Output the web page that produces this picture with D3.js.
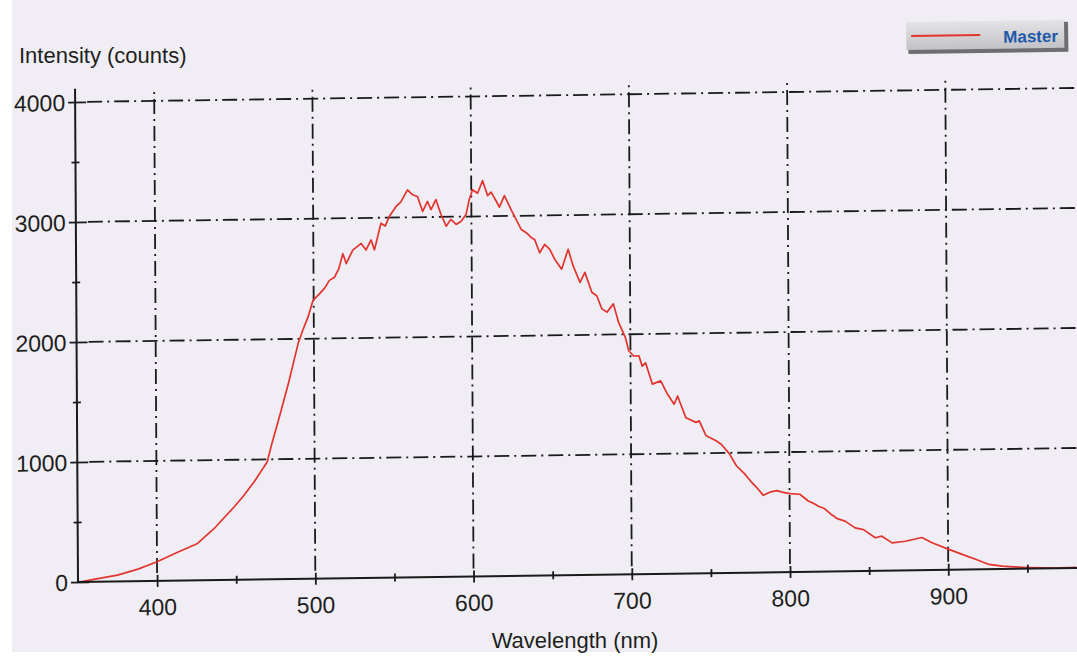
<!DOCTYPE html>
<html>
<head>
<meta charset="utf-8">
<script src="https://cdn.jsdelivr.net/npm/d3@7"></script>
<style>
  body { margin: 0; background: #ffffff; }
  svg { display: block; font-family: "Liberation Sans", Arial, sans-serif; }
  .tick text { fill: #1e1e1e; }
</style>
</head>
<body>
<svg id="chart"></svg>
<script>
// spectrum: wavelength (nm) and intensity (counts)
const wavelengths = [
  351, 360, 375, 388, 400, 412, 425.7, 437, 448.9, 455, 461.6, 470, 473, 478.5, 483.7,
  490, 493, 496.4, 499.6, 503.8, 507, 510, 513.3, 516, 518.6, 520.7, 524.9, 527.5, 530.2,
  533.3, 536.5, 538.6, 542.8, 545.5, 548, 552.3, 555.5, 559.7, 562.8, 566, 569.2, 572.3,
  574.5, 577.6, 580.8, 584, 587, 590.3, 593.5, 596.6, 598.7, 600.8, 604, 607.2, 610.3,
  612.5, 615.6, 617.7, 620.9, 625.1, 628.3, 631.5, 634.6, 637.8, 639.9, 643, 646.2, 649.4,
  652.5, 656.8, 661, 664.1, 668.4, 671.5, 675.8, 678.9, 682.1, 685.3, 689.4, 692.6, 696.8,
  698.9, 702, 705.3, 707.4, 709.5, 713.7, 719, 723.2, 727.4, 729.6, 734.8, 741.1, 743.2,
  747.5, 753.8, 757, 762.2, 766.5, 771.7, 776, 779, 783.4, 787.5, 791.8, 796, 800.2, 806.5,
  811.8, 815, 818.2, 822, 826.6, 830, 835, 841.3, 846.6, 854, 858.2, 864.6, 873, 883.5,
  889.9, 900.4, 908.9, 917.3, 925.8, 934.2, 951.1, 968, 981
];
const counts = [
  0, 20, 53, 100, 159, 230, 307, 440, 607, 700, 813, 978, 1128, 1380, 1630,
  1961, 2071, 2182, 2320, 2375, 2420, 2484, 2510, 2580, 2705, 2622, 2733, 2760, 2788,
  2733, 2816, 2733, 2954, 2930, 3008, 3090, 3130, 3229, 3188, 3173, 3048, 3130,
  3062, 3145, 3020, 2922, 2978, 2935, 2962, 3016, 3141, 3223, 3193, 3297, 3172,
  3200, 3128, 3074, 3170, 3052, 2969, 2885, 2858, 2816, 2800, 2690, 2758, 2717,
  2633, 2550, 2715, 2576, 2438, 2521, 2354, 2325, 2215, 2187, 2255, 2100, 1975,
  1863, 1818, 1820, 1733, 1760, 1582, 1608, 1497, 1412, 1480, 1297, 1258, 1270,
  1145, 1102, 1073, 992, 892, 823, 753, 712, 642, 668, 680, 665, 653, 647,
  590, 570, 545, 525, 472, 440, 418, 360, 345, 276, 288, 231, 243, 272,
  228, 170, 127, 85, 40, 24, 8, 2, 5
];

const xMajor = [400, 500, 600, 700, 800, 900];
const xMinor = [450, 550, 650, 750, 850, 950];
const yMajor = [0, 1000, 2000, 3000, 4000];
const yMinor = [500, 1500, 2500, 3500];
const seriesName = "Master";

const width = 1077, height = 658;
// origin of the (slightly tilted) scanned plot
const origin = { x: 78, y: 582 };
const inner = { width: 1000, height: 480 };

const svg = d3.select("#chart").attr("width", width).attr("height", height);

// paper background
svg.append("rect")
  .attr("x", 12).attr("y", 0)
  .attr("width", width - 12).attr("height", 652)
  .attr("fill", "#f0eef4");

const x = d3.scaleLinear().domain([350, 982]).range([0, inner.width]);
const y = d3.scaleLinear().domain([0, 4000]).range([0, -inner.height]);

// the scan is a little rotated, so the whole plot sits in a tilted group
const g = svg.append("g")
  .attr("transform", `matrix(1,-0.014,0.006,1,${origin.x},${origin.y})`);

const gridStyle = sel => sel
  .attr("stroke", "#1a1a1a")
  .attr("stroke-width", 1.8)
  .attr("stroke-dasharray", "15,5,2,5")
  .attr("fill", "none");

// horizontal grid
g.append("g").selectAll("line")
  .data(yMajor.filter(d => d > 0))
  .join("line")
  .attr("x1", 12).attr("x2", inner.width)
  .attr("y1", d => y(d)).attr("y2", d => y(d))
  .call(gridStyle);

// vertical grid
g.append("g").selectAll("line")
  .data(xMajor)
  .join("line")
  .attr("x1", d => x(d)).attr("x2", d => x(d))
  .attr("y1", -8).attr("y2", y(4110))
  .call(gridStyle);

// spectrum
const line = d3.line()
  .x((d, i) => x(wavelengths[i]))
  .y(d => y(d));

g.append("path")
  .datum(counts)
  .attr("d", line)
  .attr("fill", "none")
  .attr("stroke", "#e2342f")
  .attr("stroke-width", 1.7)
  .attr("stroke-linejoin", "round");

// axes
const xAxis = g.append("g")
  .call(d3.axisBottom(x).tickValues(xMajor).tickSize(6).tickPadding(12).tickFormat(d3.format("d")));
const xAxisMinor = g.append("g")
  .call(d3.axisBottom(x).tickValues(xMinor).tickSize(4).tickFormat(""));
const yAxis = g.append("g")
  .call(d3.axisLeft(y).tickValues(yMajor).tickSize(7).tickPadding(3).tickFormat(d3.format("d")));
const yAxisMinor = g.append("g")
  .call(d3.axisLeft(y).tickValues(yMinor).tickSize(4).tickFormat(""));

[xAxis, xAxisMinor, yAxis, yAxisMinor].forEach(a => a.select(".domain").remove());

xAxis.selectAll("line").attr("y1", -6).attr("y2", 6);
xAxisMinor.selectAll("line").attr("y1", -4).attr("y2", 4);
yAxis.selectAll("line").attr("x1", 11).attr("x2", -7);
yAxisMinor.selectAll("line").attr("x1", 4).attr("x2", -4);
[xAxis, xAxisMinor, yAxis, yAxisMinor].forEach(a =>
  a.selectAll("line").attr("stroke", "#1a1a1a").attr("stroke-width", 1.8));

xAxis.selectAll("text").attr("font-size", 23).attr("dy", "0.71em");
yAxis.selectAll("text").attr("font-size", 23).attr("dy", "0.36em");

g.append("line")
  .attr("x1", 0).attr("x2", inner.width)
  .attr("y1", 0).attr("y2", 0)
  .attr("stroke", "#1a1a1a").attr("stroke-width", 2);
g.append("line")
  .attr("x1", 0).attr("x2", 0)
  .attr("y1", 0).attr("y2", y(4110))
  .attr("stroke", "#1a1a1a").attr("stroke-width", 2);

// titles
svg.append("text")
  .attr("x", 19).attr("y", 63)
  .attr("font-size", 22).attr("fill", "#1e1e1e")
  .text("Intensity (counts)");

svg.append("text")
  .attr("x", 575).attr("y", 648)
  .attr("text-anchor", "middle")
  .attr("font-size", 22).attr("fill", "#1e1e1e")
  .text("Wavelength (nm)");

// legend
const defs = svg.append("defs");
const grad = defs.append("linearGradient").attr("id", "legendFill")
  .attr("x1", 0).attr("y1", 0).attr("x2", 0).attr("y2", 1);
grad.append("stop").attr("offset", "0%").attr("stop-color", "#e4e4e6");
grad.append("stop").attr("offset", "100%").attr("stop-color", "#c2c2c6");

const legend = svg.append("g").attr("transform", "translate(906,22) rotate(-0.8)");
legend.append("rect")
  .attr("x", 2).attr("y", 2).attr("width", 160).attr("height", 30)
  .attr("fill", "#6e6e72");
legend.append("rect")
  .attr("width", 158).attr("height", 28)
  .attr("fill", "url(#legendFill)");
legend.append("line")
  .attr("x1", 5).attr("x2", 74).attr("y1", 14).attr("y2", 14)
  .attr("stroke", "#e2342f").attr("stroke-width", 2);
legend.append("text")
  .attr("x", 97).attr("y", 22)
  .attr("font-size", 17).attr("font-weight", "bold")
  .attr("fill", "#1f5aa8")
  .text(seriesName);
</script>
</body>
</html>
